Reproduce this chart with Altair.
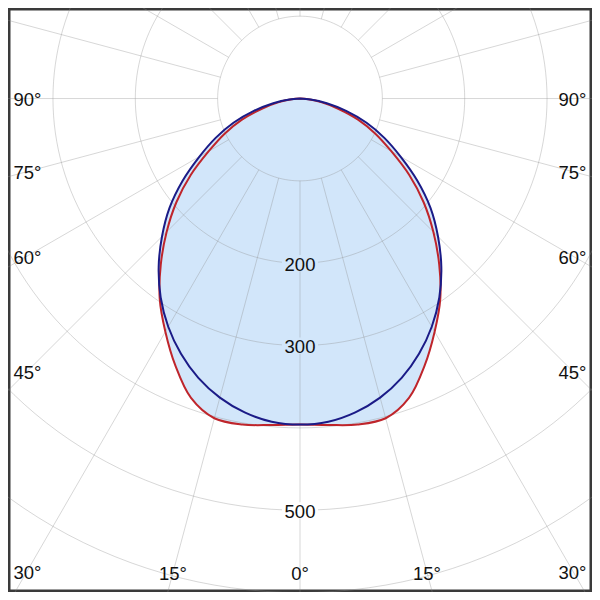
import altair as alt
import numpy as np
import pandas as pd

# ---- data (luminous intensity, cd) ----
angles = [0, 5, 10, 15, 20, 25, 30, 35, 40, 45, 50, 55, 60, 65, 70, 75, 80, 85, 90]
c0_180 = [396, 394, 387, 376, 361, 342, 320, 295, 267, 237, 207, 174, 141, 113, 86, 58, 33, 13, 0]
c90_270 = [396, 398, 402, 402, 387, 358, 327, 297, 263, 229, 196, 162, 128, 101, 75, 48, 27, 10, 0]
ring_values = [100, 200, 300, 400, 500, 600, 700]
ring_labels = [200, 300, 500]
angle_ticks = [90, 75, 60, 45, 30, 15]
spoke_angles = list(range(0, 360, 15))

# ---- layout ----
PX = 0.846          # reference pixels per cd
CX, CY = 300, 93    # pole position in the reference picture
REF = 600
W = 584
K = W / REF
XDOM = [(0 - CX) / PX, (REF - CX) / PX]
YDOM = [(0 - CY) / PX, (REF - CY) / PX]
FILL = "#d2e6fa"
BLUE = "#1b1b87"
RED = "#bf252b"
FONT = "Liberation Sans"
FS = 19 * K

xs = alt.Scale(domain=XDOM, nice=False, zero=False)
ys = alt.Scale(domain=YDOM, nice=False, zero=False, reverse=True)
X = alt.X("x:Q", scale=xs, axis=None)
Y = alt.Y("y:Q", scale=ys, axis=None)

# curves
rows = []
for name, vals in (("C90-270", c90_270), ("C0-180", c0_180)):
    seq = [(-a, v) for a, v in zip(angles[::-1], vals[::-1]) if a != 0] + list(zip(angles, vals))
    for i, (a, v) in enumerate(seq):
        t = np.radians(a)
        rows.append({"series": name, "i": i, "x": v * np.sin(t), "y": v * np.cos(t)})
curves = pd.DataFrame(rows)

# rings
crow = []
for r in ring_values:
    for j, a in enumerate(range(0, 361, 2)):
        t = np.radians(a)
        crow.append({"ring": r, "i": j, "x": r * np.sin(t), "y": r * np.cos(t)})
rings = pd.DataFrame(crow)

# spokes
srow = []
for a in spoke_angles:
    t = np.radians(a)
    srow.append({"x": 100 * np.sin(t), "y": 100 * np.cos(t),
                 "x2": 1500 * np.sin(t), "y2": 1500 * np.cos(t)})
spokes = pd.DataFrame(srow)

# value labels
vlab = pd.DataFrame({
    "x": [0.0] * len(ring_labels),
    "y": [float(r) for r in ring_labels],
    "text": [str(r) for r in ring_labels],
    "bg": [FILL if r < c0_180[0] else "white" for r in ring_labels],
})

# angle labels: where each ray meets an inset frame
side_x = (580 - CX) / PX
bot_y = (580 - CY) / PX
arow = []
for a in angle_ticks:
    t = np.radians(a)
    s, c = np.sin(t), np.cos(t)
    tx = side_x / s if s > 1e-9 else 1e9
    ty = bot_y / c if c > 1e-9 else 1e9
    d = min(tx, ty)
    arow.append({"x": -d * s, "y": d * c, "text": f"{a}°"})
    arow.append({"x": d * s, "y": d * c, "text": f"{a}°"})
arow.append({"x": 0.0, "y": bot_y, "text": "0°"})
alab = pd.DataFrame(arow)

fill_layer = alt.Chart(curves).mark_line(
    fill=FILL, stroke=FILL, strokeWidth=1, interpolate="catmull-rom", clip=True
).encode(x=X, y=Y, order="i:Q", detail="series:N")

ring_layer = alt.Chart(rings).mark_line(
    stroke="#8c8c8c", strokeOpacity=0.35, strokeWidth=1, clip=True
).encode(x=X, y=Y, order="i:Q", detail="ring:N")

spoke_layer = alt.Chart(spokes).mark_rule(
    stroke="#8c8c8c", strokeOpacity=0.35, strokeWidth=1, clip=True
).encode(x=X, y=Y, x2="x2:Q", y2="y2:Q")

box_layer = alt.Chart(vlab).mark_point(
    shape="M-1,-0.45H1V0.45H-1Z", filled=True, size=1300, opacity=1, strokeWidth=0
).encode(x=X, y=Y, color=alt.Color("bg:N", scale=None, legend=None))

curve_layer = alt.Chart(curves).mark_line(
    strokeWidth=2, interpolate="catmull-rom", clip=True
).encode(
    x=X, y=Y, order="i:Q", detail="series:N",
    color=alt.Color("series:N", scale=alt.Scale(domain=["C0-180", "C90-270"], range=[BLUE, RED]), legend=None),
)
red_layer = curve_layer.transform_filter(alt.datum.series == "C90-270")
blue_layer = curve_layer.transform_filter(alt.datum.series == "C0-180")

vtext = alt.Chart(vlab).mark_text(
    font=FONT, fontSize=FS, color="#111111", align="center", baseline="middle", dy=2 * K
).encode(x=X, y=Y, text="text:N")

atext = alt.Chart(alab).mark_text(
    font=FONT, fontSize=FS, color="#111111", align="center", baseline="middle", dy=2 * K
).encode(x=X, y=Y, text="text:N")

chart = alt.layer(
    fill_layer, ring_layer, spoke_layer, box_layer, red_layer, blue_layer, vtext, atext
).properties(
    width=W, height=W, padding=0, autosize=alt.AutoSizeParams(type="none"), background="white"
).configure_view(stroke="#3a3a3a", strokeWidth=5)

chart.save("out.html", embed_options={"renderer": "svg", "actions": False})
